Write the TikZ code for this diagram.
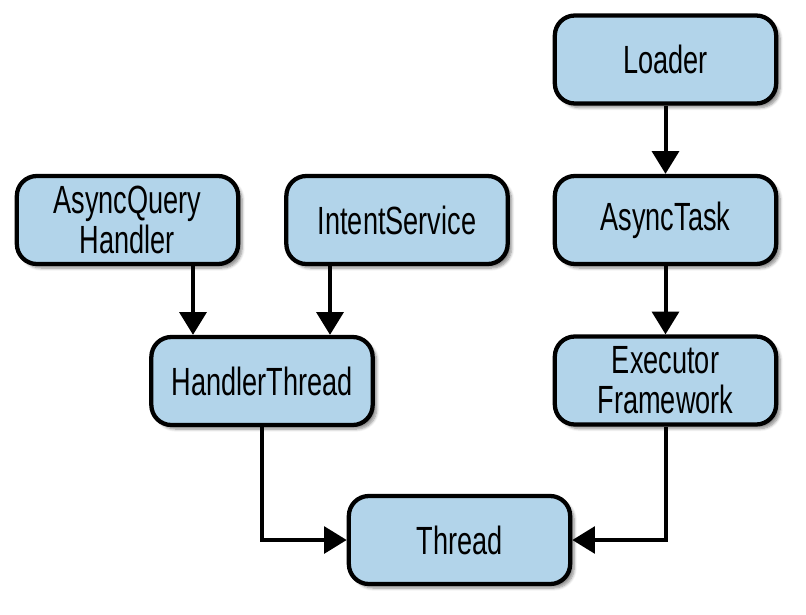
\documentclass[tikz,border=0pt]{standalone}
\usepackage{fontspec}
\setmainfont{Liberation Sans}[FakeStretch=0.69]
\usetikzlibrary{arrows.meta,positioning,shadows.blur}
\definecolor{boxblue}{RGB}{178,212,234}
\definecolor{ink}{RGB}{0,0,0}

\begin{document}
\begin{tikzpicture}[x=0.75pt, y=-0.75pt,
  every node/.style={font=\fontsize{29.5}{30}\selectfont},
  n/.style={rectangle,rounded corners=15pt,draw=ink,line width=3.2pt,fill=boxblue,text=ink,
    minimum width=166pt,minimum height=66pt,align=center,
    blur shadow={shadow xshift=3pt,shadow yshift=-3pt,shadow blur steps=6,shadow opacity=45}},
  e/.style={-{Triangle[length=17pt,width=20pt]},line width=3pt,draw=ink}]
  \useasboundingbox (0,0) rectangle (806,614);
  \node[n] (loader) at (665.5,59.5) {Loader};
  \node[n] (atask) at (665.5,220) {AsyncTask};
  \node[n] (exec) at (665.5,380.5) {Executor\\Framework};
  \node[n] (aqh) at (127.5,220) {AsyncQuery\\Handler};
  \node[n] (isvc) at (397,220) {IntentService};
  \node[n] (hthread) at (262,381) {HandlerThread};
  \node[n] (thread) at (459.5,540) {Thread};
  \draw[e] (loader) -- (atask);
  \draw[e] (atask) -- (exec);
  \draw[e] (aqh.south -| 193,0) -- (hthread.north -| 193,0);
  \draw[e] (isvc.south -| 330,0) -- (hthread.north -| 330,0);
  \draw[e] (hthread.south) |- (thread.west);
  \draw[e] (exec.south) |- (thread.east);
\end{tikzpicture}
\end{document}
